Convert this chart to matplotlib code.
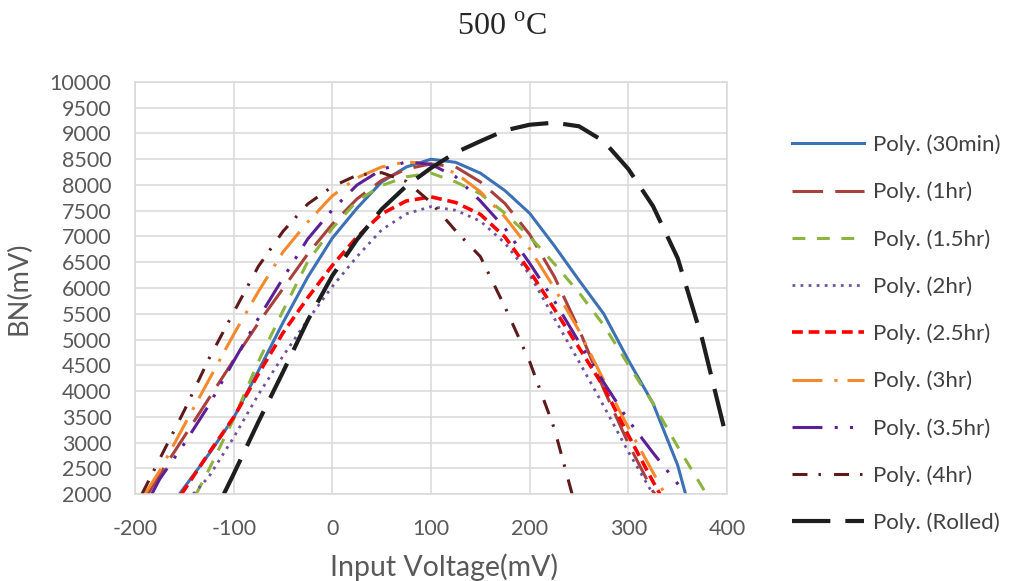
import matplotlib
matplotlib.use("Agg")
import matplotlib.pyplot as plt

plt.rcParams['font.family'] = ['Lato', 'DejaVu Sans']
plt.rcParams['mathtext.fontset'] = 'custom'
plt.rcParams['mathtext.rm'] = 'Liberation Serif'

# values (input voltage mV -> BN mV)
x_30min = [-155, -150, -125, -100, -75, -50, -25, 0, 25, 50, 75, 100, 125, 150, 175, 200, 225, 250, 275, 300, 325, 350, 358]
bn_30min = [2000, 2130, 2780, 3480, 4390, 5330, 6210, 6970, 7550, 8060, 8350, 8500, 8440, 8230, 7890, 7450, 6820, 6150, 5500, 4600, 3760, 2560, 2000]

x_1hr = [-187, -175, -150, -125, -100, -75, -50, -25, 0, 25, 50, 75, 100, 125, 150, 175, 200, 225, 250, 275, 300, 325, 327]
bn_1hr = [2000, 2380, 3120, 3860, 4600, 5320, 5990, 6660, 7240, 7730, 8090, 8310, 8410, 8350, 8060, 7640, 7040, 6220, 5200, 4040, 2980, 2050, 2000]

x_15hr = [-138, -125, -100, -75, -50, -25, 0, 25, 50, 75, 100, 125, 150, 175, 200, 225, 250, 275, 300, 325, 350, 375, 379]
bn_15hr = [2000, 2480, 3460, 4570, 5560, 6510, 7160, 7690, 7990, 8160, 8230, 8060, 7830, 7450, 7000, 6470, 5910, 5280, 4510, 3760, 2920, 2130, 2000]

x_2hr = [-141, -125, -100, -75, -50, -25, 0, 25, 50, 75, 100, 125, 150, 175, 200, 225, 250, 275, 300, 325]
bn_2hr = [2000, 2340, 3100, 3930, 4680, 5380, 6030, 6610, 7130, 7440, 7580, 7510, 7300, 6870, 6260, 5410, 4570, 3710, 2820, 2000]

x_25hr = [-153, -150, -125, -100, -75, -50, -25, 0, 25, 50, 75, 100, 125, 150, 175, 200, 225, 250, 275, 300, 325, 332]
bn_25hr = [2000, 2080, 2800, 3490, 4330, 5130, 5810, 6440, 6990, 7440, 7690, 7770, 7660, 7430, 6990, 6330, 5590, 4840, 4080, 3140, 2240, 2000]

x_3hr = [-190, -175, -150, -125, -100, -75, -50, -25, 0, 25, 50, 75, 100, 125, 150, 175, 200, 225, 250, 275, 300, 325, 337]
bn_3hr = [2000, 2450, 3340, 4220, 5100, 5930, 6700, 7280, 7790, 8140, 8350, 8450, 8400, 8230, 7870, 7380, 6760, 6000, 5170, 4210, 3290, 2420, 2000]

x_35hr = [-183, -175, -150, -125, -100, -75, -50, -25, 0, 25, 50, 75, 100, 125, 150, 175, 200, 225, 250, 275, 300, 325, 350, 358]
bn_35hr = [2000, 2290, 2980, 3730, 4580, 5410, 6190, 6950, 7520, 8000, 8300, 8450, 8400, 8160, 7690, 7160, 6480, 5750, 4950, 4170, 3430, 2800, 2200, 2000]

x_4hr = [-193, -175, -150, -125, -100, -75, -50, -25, 0, 25, 50, 75, 100, 125, 150, 175, 200, 225, 243]
bn_4hr = [2000, 2680, 3625, 4630, 5530, 6420, 7100, 7630, 7970, 8190, 8240, 8070, 7660, 7110, 6610, 5630, 4570, 3270, 2000]

x_rolled = [-110, -100, -75, -50, -25, 0, 25, 50, 75, 100, 125, 150, 175, 200, 225, 250, 275, 300, 325, 350, 375, 400]
bn_rolled = [2000, 2390, 3400, 4370, 5370, 6240, 6940, 7530, 7980, 8330, 8630, 8850, 9060, 9170, 9210, 9140, 8850, 8310, 7590, 6580, 5000, 3050]

labels = ['Poly. (30min)', 'Poly. (1hr)', 'Poly. (1.5hr)', 'Poly. (2hr)', 'Poly. (2.5hr)',
          'Poly. (3hr)', 'Poly. (3.5hr)', 'Poly. (4hr)', 'Poly. (Rolled)']
x_ticks = [-200, -100, 0, 100, 200, 300, 400]
x_tick_labels = ['-200', '-100', '0', '100', '200', '300', '400']
y_ticks = list(range(2000, 10001, 500))

series = [
    (x_30min, bn_30min, '#3C72B5', '-', 2.2),
    (x_1hr, bn_1hr, '#A8403E', (0, (10, 4)), 2.2),
    (x_15hr, bn_15hr, '#8CB43F', (0, (4.2, 3.8)), 2.2),
    (x_2hr, bn_2hr, '#7051A1', (0, (1, 1.9)), 2.0),
    (x_25hr, bn_25hr, '#FF0000', (0, (3, 1.6)), 2.6),
    (x_3hr, bn_3hr, '#F5892B', (0, (9.8, 3.9, 1, 3.3)), 2.2),
    (x_35hr, bn_35hr, '#5B1F97', (0, (9.8, 4, 1, 4, 1, 4)), 2.2),
    (x_4hr, bn_4hr, '#5E1A1A', (0, (4.9, 3.6, 0.8, 4.3)), 2.2),
    (x_rolled, bn_rolled, '#1E1E1E', (0, (9.2, 3.6)), 3.0),
]

fig = plt.figure(figsize=(10.1, 5.81), dpi=100)
ax = fig.add_axes([0.1337, 0.1497, 0.5861, 0.7092])

handles = []
for (xs, ys, c, ls, lw), lab in zip(series, labels):
    h, = ax.plot(xs, ys, color=c, linestyle=ls, linewidth=lw, label=lab)
    handles.append(h)

ax.set_xlim(-200, 400)
ax.set_ylim(2000, 10000)
ax.set_xticks(x_ticks)
ax.set_xticklabels(x_tick_labels)
ax.set_yticks(y_ticks)
ax.set_yticklabels([str(v) for v in y_ticks])
ax.tick_params(length=0, labelsize=15.5, colors='#595959')
ax.tick_params(axis='y', pad=17)
ax.tick_params(axis='x', pad=18)
ax.grid(True, color='#D9D9D9', linewidth=1.1)
ax.set_axisbelow(True)
for s in ax.spines.values():
    s.set_color('#D9D9D9')
    s.set_linewidth(1.1)

ax.set_xlabel('Input Voltage(mV)', fontsize=20.5, color='#595959', labelpad=10, x=0.522)
ax.set_ylabel('BN(mV)', fontsize=19.5, color='#595959', labelpad=13)

fig.text(0.497, 0.952, r'500 $^{\mathrm{o}}$C', family='Liberation Serif',
         fontsize=23, ha='center', va='center', color='#262626')

fig.legend(handles, labels, loc='upper left', bbox_to_anchor=(0.764, 0.803),
           frameon=False, fontsize=16, handlelength=3.25, handletextpad=0.4,
           labelspacing=1.2, labelcolor='#404040')

fig.savefig('out.png', dpi=100)
